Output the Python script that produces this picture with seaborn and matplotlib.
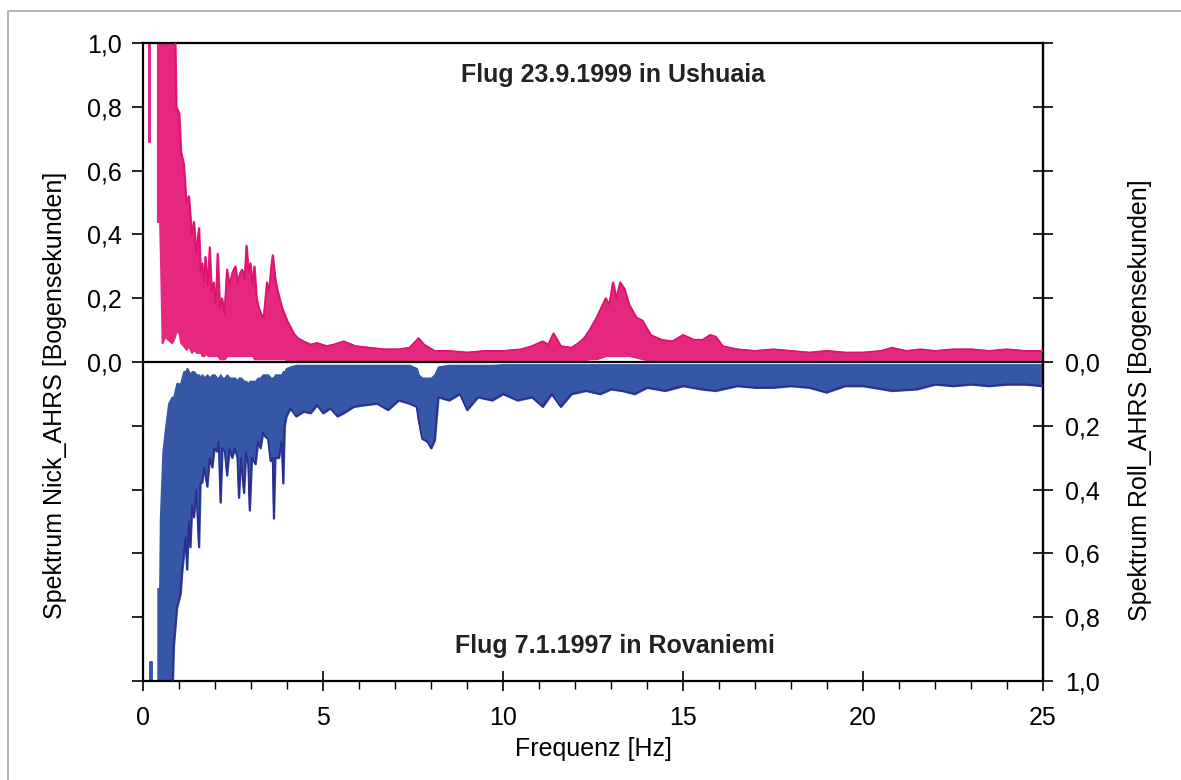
import numpy as np
import pandas as pd
import matplotlib
matplotlib.use("Agg")
import matplotlib.pyplot as plt
import seaborn as sns
from matplotlib.ticker import FixedLocator, MultipleLocator, FuncFormatter
from matplotlib.patches import Rectangle

# ---------------- data ----------------
title_top = "Flug 23.9.1999 in Ushuaia"
title_bottom = "Flug 7.1.1997 in Rovaniemi"
xlabel = "Frequenz [Hz]"
ylabel_left = "Spektrum Nick_AHRS [Bogensekunden]"
ylabel_right = "Spektrum Roll_AHRS [Bogensekunden]"
x_ticks = [0, 5, 10, 15, 20, 25]
y_ticks = [-1.0, -0.8, -0.6, -0.4, -0.2, 0.0, 0.2, 0.4, 0.6, 0.8, 1.0]

# Nick spectrum (pink, upper half): frequency, upper envelope, lower envelope
nick_f = [0.16, 0.20, 0.22, 0.40, 0.46, 0.49, 0.53, 0.60, 0.70, 0.80, 0.88, 0.92,
          1.00, 1.05, 1.13, 1.20, 1.27, 1.35, 1.41, 1.48, 1.55, 1.60, 1.64, 1.70,
          1.73, 1.80, 1.85, 1.90, 1.96, 2.02, 2.07, 2.13, 2.19, 2.26, 2.33, 2.40,
          2.48, 2.56, 2.63, 2.70, 2.75, 2.82, 2.87, 2.93, 2.98, 3.04, 3.09, 3.15,
          3.21, 3.28, 3.35, 3.40, 3.44, 3.50, 3.56, 3.60, 3.66, 3.72, 3.79, 3.86,
          3.93, 4.00, 4.09, 4.18, 4.30, 4.46, 4.65, 4.83, 5.10, 5.30, 5.57, 5.90,
          6.30, 6.70, 7.10, 7.40, 7.65, 7.80, 8.10, 8.50, 9.00, 9.50, 10.00, 10.50,
          10.80, 11.10, 11.25, 11.40, 11.60, 11.90, 12.10, 12.25, 12.40, 12.60, 12.85, 12.95,
          13.05, 13.15, 13.25, 13.37, 13.50, 13.70, 13.87, 14.10, 14.40, 14.70, 15.00, 15.30,
          15.55, 15.75, 15.90, 16.10, 16.50, 17.00, 17.50, 18.00, 18.50, 19.00, 19.50, 20.00,
          20.50, 20.80, 21.20, 21.60, 22.00, 22.50, 23.00, 23.50, 24.00, 24.50, 25.00]
nick_hi = [1.10, 1.10, np.nan, 1.10, 1.10, 1.10, 1.10, 1.10, 1.10, 1.10, 1.10, 0.80,
           0.78, 0.66, 0.62, 0.50, 0.52, 0.40, 0.44, 0.34, 0.42, 0.28, 0.31, 0.25,
           0.33, 0.24, 0.36, 0.22, 0.25, 0.18, 0.34, 0.17, 0.20, 0.15, 0.29, 0.24,
           0.28, 0.30, 0.25, 0.28, 0.29, 0.26, 0.365, 0.28, 0.31, 0.24, 0.30, 0.20,
           0.17, 0.15, 0.14, 0.20, 0.25, 0.22, 0.30, 0.335, 0.27, 0.23, 0.20, 0.17,
           0.15, 0.13, 0.11, 0.09, 0.075, 0.065, 0.055, 0.06, 0.05, 0.055, 0.065, 0.05,
           0.045, 0.04, 0.04, 0.045, 0.075, 0.055, 0.035, 0.035, 0.03, 0.035, 0.035, 0.04,
           0.05, 0.065, 0.055, 0.09, 0.05, 0.045, 0.06, 0.075, 0.10, 0.14, 0.20, 0.18,
           0.25, 0.20, 0.25, 0.23, 0.18, 0.14, 0.13, 0.085, 0.07, 0.065, 0.085, 0.07,
           0.07, 0.085, 0.08, 0.05, 0.04, 0.035, 0.04, 0.035, 0.03, 0.035, 0.03, 0.03,
           0.035, 0.045, 0.035, 0.04, 0.035, 0.04, 0.04, 0.035, 0.04, 0.035, 0.035]
nick_lo = [0.69, 0.69, np.nan, 0.44, 0.44, 0.29, 0.06, 0.08, 0.07, 0.06, 0.08, 0.10,
           0.09, 0.06, 0.05, 0.04, 0.05, 0.03, 0.04, 0.03, 0.03, 0.03, 0.02, 0.02,
           0.03, 0.02, 0.02, 0.02, 0.02, 0.02, 0.02, 0.01, 0.01, 0.01, 0.02, 0.02,
           0.02, 0.02, 0.02, 0.02, 0.02, 0.02, 0.02, 0.02, 0.02, 0.02, 0.01, 0.01,
           0.01, 0.01, 0.01, 0.01, 0.01, 0.01, 0.01, 0.01, 0.01, 0.01, 0.01, 0.01,
           0.01, 0.005, 0.005, 0.005, 0.005, 0.005, 0.005, 0.005, 0.005, 0.005, 0.005, 0.005,
           0.005, 0.005, 0.005, 0.005, 0.005, 0.005, 0.005, 0.005, 0.005, 0.005, 0.005, 0.005,
           0.005, 0.005, 0.005, 0.005, 0.005, 0.005, 0.005, 0.005, 0.01, 0.01, 0.02, 0.02,
           0.02, 0.02, 0.02, 0.02, 0.02, 0.015, 0.01, 0.005, 0.005, 0.005, 0.005, 0.005,
           0.005, 0.005, 0.005, 0.005, 0.005, 0.005, 0.005, 0.005, 0.005, 0.005, 0.005, 0.005,
           0.005, 0.005, 0.005, 0.005, 0.005, 0.005, 0.005, 0.005, 0.005, 0.005, 0.005]

# Roll spectrum (blue, lower half, drawn downwards): frequency, deep envelope, near-zero envelope
roll_f = [0.19, 0.24, 0.26, 0.41, 0.46, 0.48, 0.55, 0.63, 0.71, 0.80, 0.85, 0.94,
          1.04, 1.08, 1.13, 1.18, 1.22, 1.27, 1.31, 1.36, 1.41, 1.48, 1.55, 1.59,
          1.64, 1.70, 1.78, 1.85, 1.92, 1.98, 2.05, 2.10, 2.15, 2.20, 2.27, 2.33,
          2.40, 2.47, 2.55, 2.62, 2.66, 2.72, 2.80, 2.86, 2.92, 2.96, 3.02, 3.12,
          3.19, 3.26, 3.33, 3.40, 3.47, 3.54, 3.60, 3.63, 3.67, 3.77, 3.85, 3.89,
          3.93, 3.98, 4.09, 4.25, 4.46, 4.65, 4.83, 5.00, 5.20, 5.40, 5.57, 5.85,
          6.13, 6.50, 6.80, 7.10, 7.40, 7.60, 7.65, 7.75, 7.90, 8.00, 8.10, 8.20,
          8.50, 8.80, 9.00, 9.30, 9.70, 10.00, 10.40, 10.80, 11.10, 11.35, 11.60, 11.90,
          12.30, 12.70, 13.00, 13.30, 13.65, 14.00, 14.50, 15.00, 15.50, 15.90, 16.50, 17.00,
          17.50, 18.00, 18.50, 18.98, 19.50, 20.00, 20.80, 21.50, 22.00, 22.50, 23.00, 23.50,
          24.00, 24.50, 25.00]
roll_deep = [1.10, 1.10, np.nan, 1.10, 1.10, 1.10, 1.10, 1.10, 1.10, 1.10, 0.89, 0.77,
             0.725, 0.66, 0.605, 0.55, 0.65, 0.50, 0.58, 0.45, 0.486, 0.40, 0.58, 0.38,
             0.377, 0.33, 0.39, 0.30, 0.33, 0.27, 0.28, 0.25, 0.44, 0.27, 0.28, 0.355,
             0.27, 0.30, 0.27, 0.30, 0.425, 0.30, 0.41, 0.28, 0.32, 0.465, 0.30, 0.32,
             0.25, 0.27, 0.22, 0.235, 0.24, 0.31, 0.30, 0.49, 0.30, 0.30, 0.25, 0.38,
             0.20, 0.17, 0.145, 0.17, 0.155, 0.16, 0.135, 0.16, 0.145, 0.17, 0.16, 0.14,
             0.135, 0.13, 0.15, 0.12, 0.13, 0.14, 0.18, 0.24, 0.25, 0.27, 0.245, 0.11,
             0.12, 0.10, 0.15, 0.11, 0.12, 0.10, 0.12, 0.11, 0.14, 0.10, 0.14, 0.10,
             0.09, 0.10, 0.085, 0.09, 0.10, 0.08, 0.09, 0.075, 0.085, 0.09, 0.075, 0.08,
             0.08, 0.075, 0.08, 0.095, 0.075, 0.075, 0.09, 0.085, 0.07, 0.075, 0.07, 0.075,
             0.07, 0.07, 0.075]
roll_near = [0.94, 0.94, np.nan, 0.71, 0.71, 0.49, 0.28, 0.20, 0.13, 0.11, 0.11, 0.066,
             0.07, 0.05, 0.03, 0.03, 0.02, 0.03, 0.04, 0.03, 0.03, 0.04, 0.04, 0.05,
             0.04, 0.05, 0.04, 0.05, 0.04, 0.04, 0.05, 0.05, 0.04, 0.05, 0.05, 0.04,
             0.05, 0.05, 0.05, 0.06, 0.05, 0.05, 0.06, 0.06, 0.07, 0.06, 0.06, 0.06,
             0.05, 0.05, 0.04, 0.04, 0.04, 0.05, 0.05, 0.05, 0.04, 0.04, 0.04, 0.03,
             0.03, 0.02, 0.015, 0.01, 0.01, 0.01, 0.01, 0.01, 0.01, 0.01, 0.01, 0.01,
             0.01, 0.01, 0.01, 0.01, 0.01, 0.02, 0.04, 0.05, 0.05, 0.05, 0.04, 0.015,
             0.01, 0.01, 0.01, 0.01, 0.01, 0.008, 0.008, 0.008, 0.008, 0.008, 0.008, 0.008,
             0.008, 0.008, 0.008, 0.008, 0.008, 0.008, 0.008, 0.008, 0.008, 0.008, 0.008, 0.008,
             0.008, 0.008, 0.008, 0.008, 0.008, 0.008, 0.008, 0.008, 0.008, 0.008, 0.008, 0.008,
             0.008, 0.008, 0.008]

# ---------------- styling ----------------
PINK = "#E5277E"
PINK_EDGE = "#DC1470"
BLUE = "#3557A6"
BLUE_EDGE = "#2B2C8E"

sns.set_theme(style="ticks")
plt.rcParams["font.family"] = ["Liberation Sans", "DejaVu Sans"]
plt.rcParams["text.color"] = "black"
plt.rcParams["axes.labelcolor"] = "black"

fig = plt.figure(figsize=(11.81, 7.80), dpi=100)
ax = fig.add_axes([143 / 1181, 1 - 681 / 780, 900 / 1181, 638 / 780])


def segments(f, a, b):
    f = np.asarray(f, float)
    a = np.asarray(a, float)
    b = np.asarray(b, float)
    seg = np.cumsum(np.isnan(a))
    ok = ~np.isnan(a)
    return pd.DataFrame({"f": f[ok], "a": a[ok], "b": b[ok], "seg": seg[ok]})


nick = segments(nick_f, nick_hi, nick_lo)
roll = segments(roll_f, roll_deep, roll_near)
roll["a"] = -roll["a"]
roll["b"] = -roll["b"]

for df, fc in ((nick, PINK), (roll, BLUE)):
    for _, g in df.groupby("seg"):
        ax.fill_between(g["f"], g["b"], g["a"], facecolor=fc, edgecolor=fc,
                        lw=1.4, zorder=2)

sns.lineplot(data=nick, x="f", y="a", units="seg", estimator=None, color=PINK_EDGE,
             lw=1.2, ax=ax, zorder=3, legend=False)
sns.lineplot(data=roll, x="f", y="a", units="seg", estimator=None, color=BLUE_EDGE,
             lw=1.2, ax=ax, zorder=3, legend=False)

ax.axhline(0, color="black", lw=1.6, zorder=4)

ax.set_xlim(0, 25)
ax.set_ylim(-1.0, 1.0)
ax.set_xlabel("")
ax.set_ylabel("")

for s in ax.spines.values():
    s.set_color("black")
    s.set_linewidth(1.6)

comma = lambda v: f"{abs(v):.1f}".replace(".", ",")

# left axis
ax.yaxis.set_major_locator(FixedLocator(y_ticks))
ax.yaxis.set_major_formatter(FuncFormatter(lambda v, p: comma(v) if v >= -1e-9 else ""))
ax.tick_params(axis="y", which="major", direction="out", length=8, width=1.2,
               labelsize=18, pad=7, colors="black", right=False)

# x axis
ax.xaxis.set_major_locator(FixedLocator(x_ticks))
ax.xaxis.set_minor_locator(MultipleLocator(1))
ax.xaxis.set_major_formatter(FuncFormatter(lambda v, p: f"{v:.0f}"))
ax.tick_params(axis="x", which="major", direction="inout", length=14, width=1.2,
               labelsize=18, pad=11, colors="black", top=False)
ax.tick_params(axis="x", which="minor", direction="out", length=6, width=1.0,
               colors="black", top=False, bottom=True)

# right axis (Roll, increasing downwards)
sec = ax.secondary_yaxis("right", functions=(lambda y: -y, lambda y: -y))
sec.yaxis.set_major_locator(FixedLocator([-v for v in y_ticks]))
sec.yaxis.set_major_formatter(FuncFormatter(lambda v, p: comma(v) if v >= -1e-9 else ""))
sec.tick_params(axis="y", direction="inout", length=14, width=1.2, labelsize=18,
                pad=9, colors="black")
sec.spines["right"].set_linewidth(1.6)

# titles inside plot
ax.text(13.05, 0.90, title_top, ha="center", va="center", fontsize=18,
        fontweight="bold", color="#222222", zorder=5)
ax.text(13.1, -0.89, title_bottom, ha="center", va="center", fontsize=18,
        fontweight="bold", color="#222222", zorder=5)

# axis labels
fig.text(593 / 1181, 1 - 749 / 780, xlabel, ha="center", va="center", fontsize=18,
         color="black")
fig.text(55 / 1181, 1 - 395 / 780, ylabel_left, ha="center", va="center",
         rotation=90, fontsize=18, color="black")
fig.text(1140 / 1181, 1 - 400 / 780, ylabel_right, ha="center", va="center",
         rotation=90, fontsize=18, color="black")

# scanned page frame
fig.patches.append(Rectangle((8 / 1181, -0.05), 1.2, 1 - 11 / 780 + 0.05,
                             transform=fig.transFigure, fill=False,
                             edgecolor="#a8a8a8", lw=1.2))

fig.savefig("out.png", dpi=100)
